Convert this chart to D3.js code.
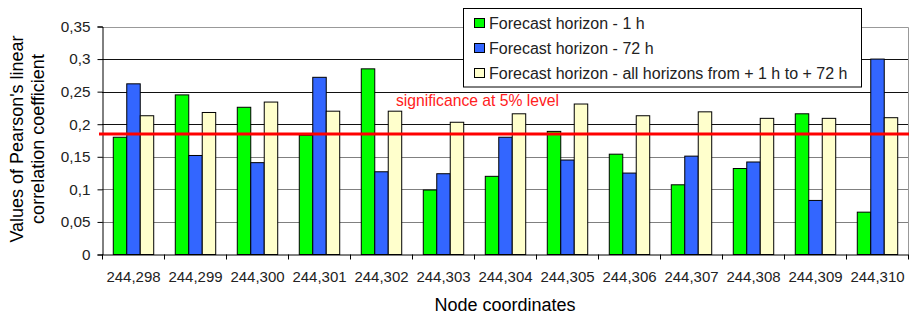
<!DOCTYPE html>
<html>
<head>
<meta charset="utf-8">
<script src="https://cdn.jsdelivr.net/npm/d3@7"></script>
<style>
  html, body { margin: 0; padding: 0; background: #fff; }
  svg { display: block; font-family: "Liberation Sans", Arial, sans-serif; }
</style>
</head>
<body>
<svg id="chart" width="909" height="317"></svg>
<script>
const categories = ["244,298","244,299","244,300","244,301","244,302","244,303","244,304","244,305","244,306","244,307","244,308","244,309","244,310"];
const seriesNames = ["Forecast horizon - 1 h", "Forecast horizon - 72 h", "Forecast horizon - all horizons from + 1 h to + 72 h"];
const seriesColors = ["#00FF00", "#3366FF", "#FFFFCC"];
const valuesH1 = [0.180, 0.245, 0.226, 0.183, 0.285, 0.099, 0.120, 0.189, 0.154, 0.107, 0.132, 0.216, 0.065];
const valuesH72 = [0.262, 0.152, 0.141, 0.272, 0.127, 0.124, 0.180, 0.145, 0.125, 0.151, 0.142, 0.083, 0.300];
const valuesAll = [0.213, 0.218, 0.234, 0.220, 0.220, 0.203, 0.216, 0.231, 0.213, 0.219, 0.209, 0.209, 0.210];
const yTicks = [0, 0.05, 0.1, 0.15, 0.2, 0.25, 0.3, 0.35];
const significance = 0.185;
const significanceLabel = "significance at 5% level";
const xTitle = "Node coordinates";
const yTitleLines = ["Values of Pearson's linear", "correlation coefficient"];

const allSeries = [valuesH1, valuesH72, valuesAll];
const svg = d3.select("#chart");

const pLeft = 102, pRight = 908, pTop = 26.5, pBottom = 254.5;
const x0 = d3.scaleBand().domain(categories).range([pLeft, pRight]).padding(0);
const x1 = d3.scaleBand().domain(d3.range(3)).range([0, x0.bandwidth()]).paddingInner(0).paddingOuter(0.8);
const y = d3.scaleLinear().domain([0, 0.35]).range([pBottom, pTop]);
const fmt = v => String(v).replace(".", ",");

// gridlines
svg.append("g").selectAll("line").data(yTicks.filter(t => t > 0 && t < 0.35)).join("line")
  .attr("x1", pLeft).attr("x2", pRight)
  .attr("y1", d => Math.round(y(d)) + 0.5).attr("y2", d => Math.round(y(d)) + 0.5)
  .attr("stroke", d => d >= 0.2 ? "#111" : "#808080").attr("stroke-width", 1);

// plot border (top & right)
svg.append("path")
  .attr("d", `M${pLeft},${Math.round(y(0.35)) + 0.5}H${pRight + 0.5}V${pBottom}`)
  .attr("fill", "none").attr("stroke", "#999").attr("stroke-width", 1);

// bars
const groups = svg.append("g").selectAll("g").data(categories).join("g")
  .attr("transform", d => `translate(${x0(d)},0)`);
groups.selectAll("rect").data((d, i) => allSeries.map((s, k) => ({k, v: s[i]}))).join("rect")
  .attr("x", d => x1(d.k) + 0.5)
  .attr("y", d => y(d.v))
  .attr("width", x1.bandwidth())
  .attr("height", d => y(0) - y(d.v))
  .attr("fill", d => seriesColors[d.k])
  .attr("stroke", "#000").attr("stroke-width", 1);

// y axis
const yAxis = d3.axisLeft(y).tickValues(yTicks).tickSize(5).tickPadding(7).tickFormat(fmt);
const gy = svg.append("g").attr("transform", `translate(${pLeft + 0.5},0)`).call(yAxis);
gy.select(".domain").attr("stroke", "#000");
gy.selectAll(".tick line").attr("stroke", "#000");
gy.selectAll(".tick text").attr("font-size", 15.3).attr("fill", "#222")
  .attr("font-family", "Liberation Sans, Arial");

// x axis
const gx = svg.append("g").attr("transform", `translate(0,${pBottom})`);
gx.append("line").attr("x1", pLeft).attr("x2", pRight + 0.5).attr("y1", 0.5).attr("y2", 0.5).attr("stroke", "#000");
gx.selectAll(".tk").data(categories.concat(["end"])).join("line")
  .attr("x1", (d, i) => Math.round(pLeft + i * x0.step()) + 0.5)
  .attr("x2", (d, i) => Math.round(pLeft + i * x0.step()) + 0.5)
  .attr("y1", 0).attr("y2", 5).attr("stroke", "#000");
gx.selectAll("text").data(categories).join("text")
  .attr("x", d => x0(d) + x0.bandwidth() / 2 + 0.5)
  .attr("y", 27)
  .attr("text-anchor", "middle").attr("font-size", 15).attr("fill", "#222")
  .text(d => d);

// significance line
svg.append("line")
  .attr("x1", pLeft - 3).attr("x2", 909)
  .attr("y1", y(significance)).attr("y2", y(significance))
  .attr("stroke", "#FF0000").attr("stroke-width", 3);
svg.append("text")
  .attr("x", 396).attr("y", 106)
  .attr("font-size", 15.7).attr("fill", "#FF2020")
  .text(significanceLabel);

// axis titles
svg.append("text")
  .attr("x", (pLeft + pRight) / 2).attr("y", 311)
  .attr("text-anchor", "middle").attr("font-size", 18).attr("fill", "#000")
  .text(xTitle);
const yt = svg.append("text")
  .attr("transform", "translate(0,139) rotate(-90)")
  .attr("text-anchor", "middle").attr("font-size", 18).attr("fill", "#000");
yTitleLines.forEach((t, i) => {
  yt.append("tspan").attr("x", 0).attr("y", 23 + i * 20.5).text(t);
});

// legend
const lg = svg.append("g");
lg.append("rect").attr("x", 463.5).attr("y", 8.5).attr("width", 398).attr("height", 78.5)
  .attr("fill", "#fff").attr("stroke", "#000").attr("stroke-width", 1);
const items = lg.selectAll("g").data(seriesNames).join("g")
  .attr("transform", (d, i) => `translate(0,${i * 25})`);
items.append("rect").attr("x", 474.5).attr("y", 18.5).attr("width", 10).attr("height", 9)
  .attr("fill", (d, i) => seriesColors[i]).attr("stroke", "#000");
items.append("text").attr("x", 489).attr("y", 28.5).attr("font-size", 16).attr("fill", "#222")
  .text(d => d);
</script>
</body>
</html>
